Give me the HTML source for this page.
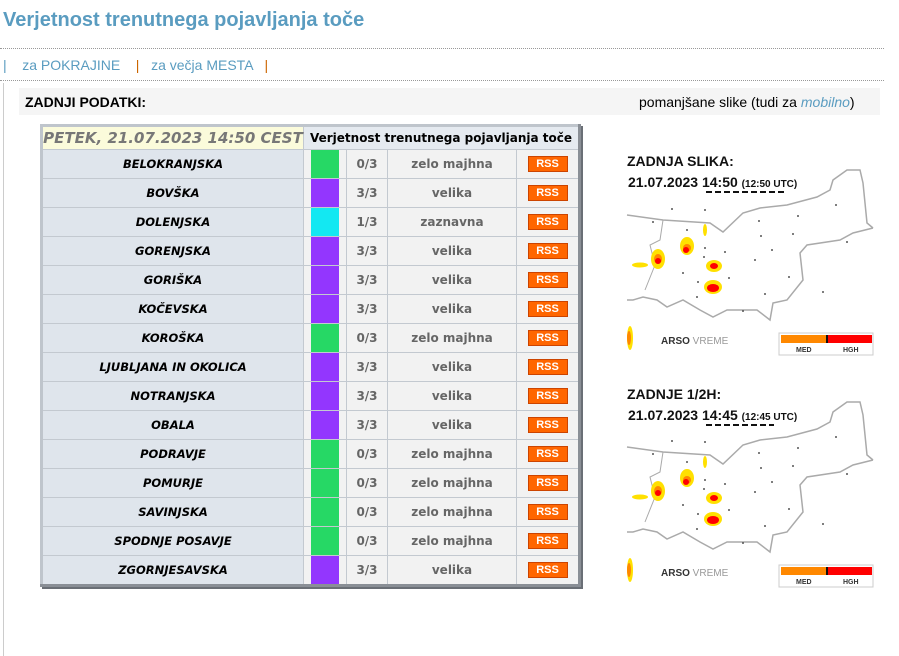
<!DOCTYPE html>
<html><head><meta charset="utf-8"><style>
body{margin:0;width:899px;height:656px;background:#fff;font-family:"Liberation Sans",sans-serif;position:relative;overflow:hidden}
.a{position:absolute}
h1{position:absolute;left:3px;top:9px;margin:0;font-size:20px;font-weight:bold;color:#5a9cc0;white-space:nowrap}
.dot{position:absolute;left:0;width:884px;border-top:1px dotted #999}
.nav{position:absolute;left:3px;top:57px;font-size:14px;color:#5a9cc0;white-space:nowrap}
.nav b{font-weight:normal;color:#c60}
table{position:absolute;left:40px;top:124px;border-collapse:collapse;border:3px solid #8a8f96;border-top-color:#bfc5cc;border-left-color:#bfc5cc;font-family:"DejaVu Sans",sans-serif;font-weight:bold;font-size:12px;box-shadow:2px 2px 0 #6a6f76}
td{border:1px solid #c3c9d0;height:29px;padding:0;text-align:center;background:#f2f2f2;color:#666;box-sizing:border-box}
tr{height:29px}
td.n{background:#dfe5ec;color:#000;font-style:italic;width:262px;font-size:11.5px}
td.c{width:43px;padding:0}
td.c div{width:28px;height:28px;margin:0 auto}
td.v{width:41px}td.t{width:129px}td.r{width:63px}
.rss{display:inline-block;background:#f60;color:#fff;font-size:11px;width:38px;height:14px;line-height:14px;border:1px solid #c40;font-family:"Liberation Sans",sans-serif;font-weight:bold}
.g{background:#26d865}.p{background:#9336fe}.y{background:#13e8f2}
tr.hd{height:24px}.hd td{height:24px}
</style></head><body>
<h1>Verjetnost trenutnega pojavljanja toče</h1>
<div class="dot" style="top:48px"></div>
<div class="nav">|&nbsp;&nbsp;&nbsp; za POKRAJINE &nbsp;&nbsp;&nbsp;<b>|</b>&nbsp;&nbsp; za večja MESTA &nbsp;&nbsp;<b>|</b></div>
<div class="dot" style="top:80px"></div>
<div class="a" style="left:3px;top:83px;width:1px;height:573px;background:#ccc"></div>
<div class="a" style="left:19px;top:88px;width:861px;height:27px;background:#f5f5f5"></div>
<div class="a" style="left:25px;top:94px;font-size:14px;font-weight:bold">ZADNJI PODATKI:</div>
<div class="a" style="left:639px;top:94px;font-size:14px">pomanjšane slike (tudi za <i style="color:#5a9cc0">mobilno</i>)</div>
<table>
<tr class="hd"><td style="background:#fbfbdb;color:#777;font-style:italic;font-size:15px;width:262px">PETEK, 21.07.2023 14:50 CEST</td><td colspan="4" style="background:#e5eaf0;color:#000;font-size:12px">Verjetnost trenutnega pojavljanja toče</td></tr>
<tr><td class="n">BELOKRANJSKA</td><td class="c"><div class="g"></div></td><td class="v">0/3</td><td class="t">zelo majhna</td><td class="r"><span class="rss">RSS</span></td></tr>
<tr><td class="n">BOVŠKA</td><td class="c"><div class="p"></div></td><td class="v">3/3</td><td class="t">velika</td><td class="r"><span class="rss">RSS</span></td></tr>
<tr><td class="n">DOLENJSKA</td><td class="c"><div class="y"></div></td><td class="v">1/3</td><td class="t">zaznavna</td><td class="r"><span class="rss">RSS</span></td></tr>
<tr><td class="n">GORENJSKA</td><td class="c"><div class="p"></div></td><td class="v">3/3</td><td class="t">velika</td><td class="r"><span class="rss">RSS</span></td></tr>
<tr><td class="n">GORIŠKA</td><td class="c"><div class="p"></div></td><td class="v">3/3</td><td class="t">velika</td><td class="r"><span class="rss">RSS</span></td></tr>
<tr><td class="n">KOČEVSKA</td><td class="c"><div class="p"></div></td><td class="v">3/3</td><td class="t">velika</td><td class="r"><span class="rss">RSS</span></td></tr>
<tr><td class="n">KOROŠKA</td><td class="c"><div class="g"></div></td><td class="v">0/3</td><td class="t">zelo majhna</td><td class="r"><span class="rss">RSS</span></td></tr>
<tr><td class="n">LJUBLJANA IN OKOLICA</td><td class="c"><div class="p"></div></td><td class="v">3/3</td><td class="t">velika</td><td class="r"><span class="rss">RSS</span></td></tr>
<tr><td class="n">NOTRANJSKA</td><td class="c"><div class="p"></div></td><td class="v">3/3</td><td class="t">velika</td><td class="r"><span class="rss">RSS</span></td></tr>
<tr><td class="n">OBALA</td><td class="c"><div class="p"></div></td><td class="v">3/3</td><td class="t">velika</td><td class="r"><span class="rss">RSS</span></td></tr>
<tr><td class="n">PODRAVJE</td><td class="c"><div class="g"></div></td><td class="v">0/3</td><td class="t">zelo majhna</td><td class="r"><span class="rss">RSS</span></td></tr>
<tr><td class="n">POMURJE</td><td class="c"><div class="g"></div></td><td class="v">0/3</td><td class="t">zelo majhna</td><td class="r"><span class="rss">RSS</span></td></tr>
<tr><td class="n">SAVINJSKA</td><td class="c"><div class="g"></div></td><td class="v">0/3</td><td class="t">zelo majhna</td><td class="r"><span class="rss">RSS</span></td></tr>
<tr><td class="n">SPODNJE POSAVJE</td><td class="c"><div class="g"></div></td><td class="v">0/3</td><td class="t">zelo majhna</td><td class="r"><span class="rss">RSS</span></td></tr>
<tr><td class="n">ZGORNJESAVSKA</td><td class="c"><div class="p"></div></td><td class="v">3/3</td><td class="t">velika</td><td class="r"><span class="rss">RSS</span></td></tr>
</table>

<svg class="a" style="left:0;top:0" width="899" height="656" font-family="Liberation Sans, sans-serif">
<defs>
<g id="map">
<polyline fill="none" stroke="#aaa" stroke-width="1.5" points="627,215 663,220 710,223 723,232 743,213 760,208 787,205 817,197 830,190 833,180 847,170 860,170 863,183 867,223 873,228"/>
<polyline fill="none" stroke="#aaa" stroke-width="1.5" points="873,228 853,233 840,240 807,245 800,253 803,280 787,300 773,303 770,320 757,310 727,310 713,317 700,310 683,300 667,307 657,300 643,297 633,300 627,300"/>
<polyline fill="none" stroke="#aaa" stroke-width="1" points="663,220 660,240 650,245 655,265 645,290"/>
<g fill="#555"><circle cx="672" cy="209" r="1"/><circle cx="705" cy="210" r="1"/><circle cx="653" cy="222" r="1"/><circle cx="687" cy="230" r="1"/><circle cx="759" cy="221" r="1"/><circle cx="798" cy="216" r="1"/><circle cx="836" cy="205" r="1"/><circle cx="761" cy="236" r="1"/><circle cx="793" cy="234" r="1"/><circle cx="847" cy="242" r="1"/><circle cx="705" cy="248" r="1"/><circle cx="725" cy="252" r="1"/><circle cx="772" cy="250" r="1"/><circle cx="755" cy="260" r="1"/><circle cx="683" cy="273" r="1"/><circle cx="729" cy="278" r="1"/><circle cx="698" cy="282" r="1"/><circle cx="789" cy="277" r="1"/><circle cx="697" cy="297" r="1"/><circle cx="765" cy="294" r="1"/><circle cx="823" cy="292" r="1"/><circle cx="743" cy="311" r="1"/><circle cx="704" cy="257" r="1"/></g>
<g fill="#ffe000"><ellipse cx="658" cy="259" rx="7" ry="10"/><ellipse cx="687" cy="246" rx="7" ry="9"/><ellipse cx="714" cy="266" rx="8" ry="6"/><ellipse cx="713" cy="287" rx="9" ry="7"/><ellipse cx="640" cy="265" rx="8" ry="2.5"/><ellipse cx="630" cy="338" rx="3" ry="12"/><ellipse cx="705" cy="230" rx="2" ry="6"/></g>
<g fill="#ff8800"><ellipse cx="658" cy="259" rx="4" ry="5"/><ellipse cx="687" cy="248" rx="4" ry="4"/><ellipse cx="629" cy="338" rx="2" ry="7"/></g>
<g fill="#f00"><ellipse cx="658" cy="261" rx="3" ry="3"/><ellipse cx="686" cy="250" rx="3" ry="3"/><ellipse cx="714" cy="266" rx="4" ry="3"/><ellipse cx="713" cy="288" rx="6" ry="4"/></g>
<text x="661" y="344" font-size="10" font-weight="bold" fill="#333">ARSO <tspan fill="#999" font-weight="normal">VREME</tspan></text>
<rect x="779" y="333" width="94" height="22" fill="#fff" stroke="#ccc"/>
<rect x="781" y="335" width="45" height="8" fill="#f80"/><rect x="826" y="335" width="2" height="8" fill="#111"/><rect x="828" y="335" width="44" height="8" fill="#f00"/>
<text x="796" y="352" font-size="7" font-weight="bold" fill="#333">MED</text><text x="843" y="352" font-size="7" font-weight="bold" fill="#333">HGH</text>
</g>
</defs>
<use href="#map"/>
<use href="#map" transform="translate(0,232)"/>
<g font-weight="bold" fill="#111">
<text x="627" y="166" font-size="14">ZADNJA SLIKA:</text>
<text x="628" y="187" font-size="14">21.07.2023 <tspan>14:50</tspan> <tspan font-size="10">(12:50 UTC)</tspan></text>
<line x1="706" y1="192" x2="784" y2="192" stroke="#111" stroke-width="2" stroke-dasharray="6,3"/>
<text x="627" y="399" font-size="14">ZADNJE 1/2H:</text>
<text x="628" y="420" font-size="14">21.07.2023 <tspan>14:45</tspan> <tspan font-size="10">(12:45 UTC)</tspan></text>
<line x1="706" y1="425" x2="774" y2="425" stroke="#111" stroke-width="2" stroke-dasharray="6,3"/>
</g>
</svg>
</body></html>
